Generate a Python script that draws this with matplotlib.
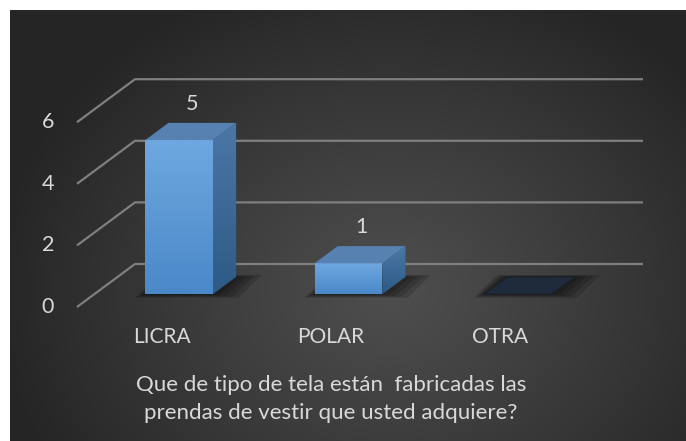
import numpy as np
import matplotlib
matplotlib.use('Agg')
import matplotlib.pyplot as plt
from matplotlib.patches import Polygon

categories = ['LICRA', 'POLAR', 'OTRA']
values = [5, 1, 0]
yticks = [0, 2, 4, 6]
title = 'Que de tipo de tela están  fabricadas las\nprendas de vestir que usted adquiere?'

W, H, DPI = 686, 441, 100
PX_CAT, PX_VAL = 169.33, 30.8      # pixels per category / per value unit
X0PX, Y0PX = 77, 307               # front-left corner of the floor
DX, DY = 58 / PX_CAT, 43 / PX_VAL  # depth offset of the back wall
BAR_W = 0.4
D0, D1 = 0.3, 0.7                  # bar depth range on the floor
TXT = '#d9d9d9'

plt.rcParams['font.family'] = ['Lato', 'DejaVu Sans']

fig = plt.figure(figsize=(W / DPI, H / DPI), dpi=DPI, facecolor='white')
ax = fig.add_axes([0, 0, 1, 1])
ax.axis('off')


def gradfill(poly, c_top, c_bot, z):
    """ Fill a polygon with a vertical linear gradient (image clipped to it). """
    xy = np.asarray(poly)
    patch = Polygon(xy, closed=True, facecolor='none', edgecolor='none', zorder=z)
    ax.add_patch(patch)
    t = np.linspace(0, 1, 64)[:, None]
    c = np.array(matplotlib.colors.to_rgb(c_top)) * (1 - t) + np.array(matplotlib.colors.to_rgb(c_bot)) * t
    img = ax.imshow(c[:, None, :], extent=[xy[:, 0].min(), xy[:, 0].max(), xy[:, 1].min(), xy[:, 1].max()],
                    aspect='auto', origin='upper', zorder=z, interpolation='bilinear')
    img.set_clip_path(patch)


# ---- background: dark radial gradient inside a white margin ----
xs = np.arange(10, W) + 0.5
ys = np.arange(10, H) + 0.5
gx, gy = np.meshgrid(xs, ys)
r = np.clip(np.sqrt(((gx - 390) / 400) ** 2 + ((gy - 290) / 330) ** 2), 0, 1)
g = (0x4e - (0x4e - 0x25) * r ** 1.1) / 255.0
ax.imshow(np.dstack([g, g, g]), extent=[10 / W, 1, 0, 1 - 10 / H], transform=ax.transAxes,
          aspect='auto', zorder=0, interpolation='bilinear')

ax.set_xlim(-X0PX / PX_CAT, (W - X0PX) / PX_CAT)
ax.set_ylim(-(H - Y0PX) / PX_VAL, Y0PX / PX_VAL)

# ---- perspective gridlines ----
n = len(categories)
for v in yticks:
    ax.plot([0, DX, n + DX], [v, v + DY, v + DY], color='#7f7f7f', lw=1.6, zorder=1,
            solid_capstyle='butt')
    ax.text(-29 / PX_CAT, v, str(v), ha='center', va='center', fontsize=15.5, color=TXT)

# ---- bars ----
for i, (cat, v) in enumerate(zip(categories, values)):
    x0 = i + 0.5 - BAR_W / 2
    x1 = x0 + BAR_W
    # soft shadow on the floor
    for k in range(4):
        e = 0.025 * (k + 1)
        shadow = [(x0 - e * 0.6 + D0 * DX, D0 * DY - e * 1.2), (x1 + e * 1.5 + D0 * DX, D0 * DY - e * 1.2),
                  (x1 + e * 1.5 + D1 * DX, D1 * DY + e * 0.6), (x0 - e * 0.6 + D1 * DX, D1 * DY + e * 0.6)]
        ax.add_patch(Polygon(shadow, closed=True, facecolor='black', edgecolor='none', alpha=0.15, zorder=2))
    top = [(x0 + D0 * DX, v + D0 * DY), (x1 + D0 * DX, v + D0 * DY),
           (x1 + D1 * DX, v + D1 * DY), (x0 + D1 * DX, v + D1 * DY)]
    if v == 0:
        ax.add_patch(Polygon(top, closed=True, facecolor='#1f2b3a', edgecolor='#1a1f26', lw=0.8, zorder=3))
        continue
    front = [(x0 + D0 * DX, D0 * DY), (x1 + D0 * DX, D0 * DY),
             (x1 + D0 * DX, v + D0 * DY), (x0 + D0 * DX, v + D0 * DY)]
    side = [(x1 + D0 * DX, D0 * DY), (x1 + D1 * DX, D1 * DY),
            (x1 + D1 * DX, v + D1 * DY), (x1 + D0 * DX, v + D0 * DY)]
    gradfill(front, '#6fa8e0', '#4a88c8', 4)
    gradfill(side, '#4a77a6', '#2e5a87', 4)
    ax.add_patch(Polygon(top, closed=True, facecolor='#5781b0', edgecolor='none', zorder=4))
    ax.annotate(str(v), xy=(i + 0.5 + 0.5 * (D0 + D1) * DX, v + D1 * DY), xytext=(1, 13.5),
                textcoords='offset points', ha='center', va='center', fontsize=15.5, color=TXT)

for i, cat in enumerate(categories):
    ax.annotate(cat, xy=(i + 0.5, 0), xytext=(0, -21.6), textcoords='offset points',
                ha='center', va='center', fontsize=15, color=TXT)

ax.text(n / 2, (Y0PX - 399) / PX_VAL, title, ha='center', va='center', fontsize=16,
        color=TXT, linespacing=1.5)

fig.savefig('out.png', dpi=DPI, facecolor='white')
